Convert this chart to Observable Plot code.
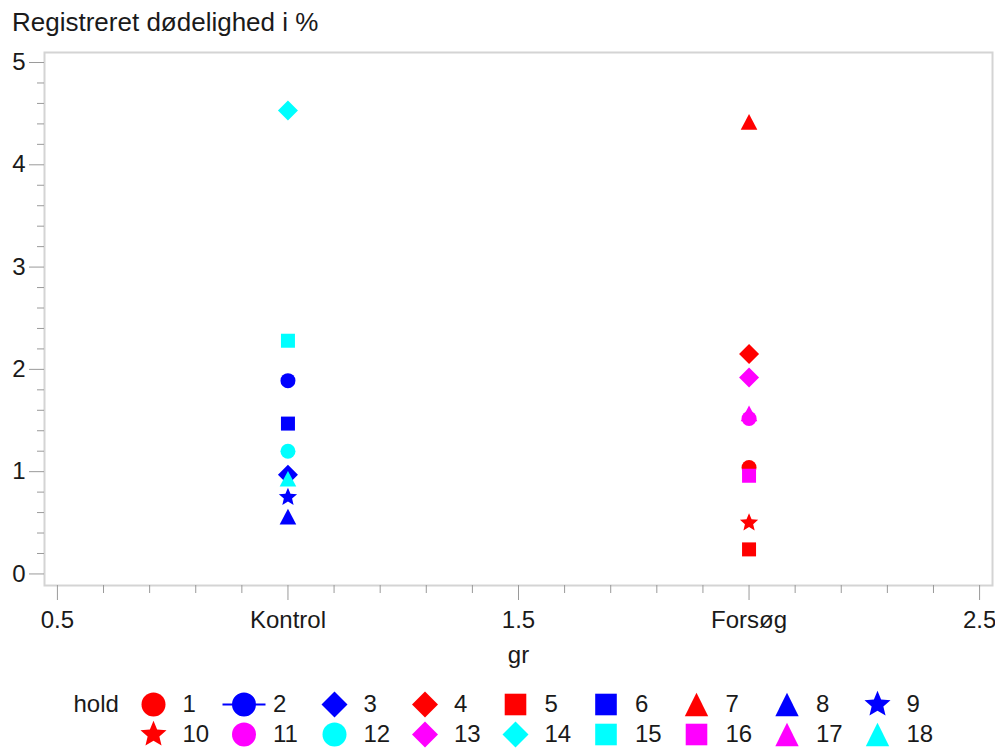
<!DOCTYPE html>
<html>
<head>
<meta charset="utf-8">
<script src="https://cdn.jsdelivr.net/npm/d3@7"></script>
<script src="https://cdn.jsdelivr.net/npm/@observablehq/plot@0.6"></script>
<style>
  body { margin: 0; background: #fff; }
  #wrap { position: relative; width: 995px; height: 749px; }
  #title { position: absolute; left: 12px; top: 7px; font: 26px "Liberation Sans", Arial, sans-serif; line-height: 30px; color: #1a1a1a; white-space: nowrap; }
  #chart { position: absolute; left: 0; top: 0; }
  #legend { position: absolute; left: 0; top: 680px; }
</style>
</head>
<body>
<div id="wrap">
  <div id="chart"></div>
  <div id="title">Registreret dødelighed i %</div>
  <div id="legend"></div>
</div>
<script>
// Mortality per hold, grouped by treatment group
const groupNames = ["Kontrol", "Forsøg"];
const holds = [1, 2, 3, 4, 5, 6, 7, 8, 9, 10, 11, 12, 13, 14, 15, 16, 17, 18];
const holdGroup = ["Forsøg", "Kontrol", "Kontrol", "Forsøg", "Forsøg", "Kontrol", "Forsøg", "Kontrol", "Kontrol",
                   "Forsøg", "Forsøg", "Kontrol", "Forsøg", "Kontrol", "Kontrol", "Forsøg", "Forsøg", "Kontrol"];
const mortality = [1.04, 1.89, 0.97, 2.15, 0.24, 1.47, 4.42, 0.56, 0.75,
                   0.50, 1.52, 1.20, 1.92, 4.53, 2.28, 0.96, 1.57, 0.93];

// Marker attributes per hold (shape and fill)
const holdShapes = ["circle", "circle", "diamond", "diamond", "square", "square", "triangle", "triangle", "star",
                    "star", "circle", "circle", "diamond", "diamond", "square", "square", "triangle", "triangle"];
const holdColors = ["#ff0000", "#0000ff", "#0000ff", "#ff0000", "#ff0000", "#0000ff", "#ff0000", "#0000ff", "#0000ff",
                    "#ff0000", "#ff00ff", "#00ffff", "#ff00ff", "#00ffff", "#00ffff", "#ff00ff", "#ff00ff", "#00ffff"];

// Axis ticks
const xTicks = [0.5, 1, 1.5, 2, 2.5];
const xTickLabels = ["0.5", "Kontrol", "1.5", "Forsøg", "2.5"];
const yTicks = [0, 1, 2, 3, 4, 5];
const xMinor = d3.range(5, 26).map(v => v / 10).filter(v => !xTicks.includes(v));
const yMinor = d3.range(0, 26).map(v => v / 5).filter(v => !yTicks.includes(v));

const rows = holds.map((h, i) => ({hold: h, group: holdGroup[i], gr: groupNames.indexOf(holdGroup[i]) + 1, value: mortality[i]}));

// Filled marker outlines drawn into a d3 path context
function drawShape(ctx, shape, d) {
  if (shape === "circle") {
    ctx.moveTo(d.circle, 0);
    ctx.arc(0, 0, d.circle, 0, 2 * Math.PI);
  } else if (shape === "square") {
    const h = d.square;
    ctx.moveTo(-h, -h); ctx.lineTo(h, -h); ctx.lineTo(h, h); ctx.lineTo(-h, h); ctx.closePath();
  } else if (shape === "diamond") {
    const h = d.diamond;
    ctx.moveTo(0, -h); ctx.lineTo(h, 0); ctx.lineTo(0, h); ctx.lineTo(-h, 0); ctx.closePath();
  } else if (shape === "triangle") {
    const [w, h] = d.triangle;
    ctx.moveTo(0, -h); ctx.lineTo(w, h); ctx.lineTo(-w, h); ctx.closePath();
  } else if (shape === "star") {
    const R = d.star, r = R * 0.45;
    for (let k = 0; k < 10; k++) {
      const a = -Math.PI / 2 + k * Math.PI / 5, rr = k % 2 ? r : R;
      const px = rr * Math.cos(a), py = rr * Math.sin(a);
      k ? ctx.lineTo(px, py) : ctx.moveTo(px, py);
    }
    ctx.closePath();
  }
}
function makeSymbol(shape, dims, withLine) {
  return {
    draw(ctx) {
      if (withLine) {
        const L = dims.line;
        ctx.moveTo(-L, -1); ctx.lineTo(L, -1); ctx.lineTo(L, 1); ctx.lineTo(-L, 1); ctx.closePath();
      }
      drawShape(ctx, shape, dims);
    }
  };
}

const chartDims = {circle: 7.5, square: 7, diamond: 10, triangle: [8.3, 7.8], star: 9.6};
const legendDims = {circle: 12, square: 10.8, diamond: 13, triangle: [11.7, 11.7], star: 13.7, line: 21.5};

const font = '"Liberation Sans", Arial, sans-serif';
const ink = "#1a1a1a";
const tickInk = "#9a9a9a";

const chart = Plot.plot({
  width: 995,
  height: 690,
  marginTop: 52,
  marginLeft: 44,
  marginRight: 3,
  marginBottom: 105,
  style: {fontFamily: font, fontSize: "24px", color: ink, background: "transparent"},
  x: {type: "linear", domain: [0.472, 2.528], label: null},
  y: {domain: [-0.113, 5.098], label: null},
  color: {type: "ordinal", domain: holds, range: holdColors},
  symbol: {domain: holds, range: holdShapes.map(s => makeSymbol(s, chartDims, false))},
  marks: [
    Plot.frame({stroke: "#d4d4d4", strokeWidth: 2}),
    Plot.axisY(yMinor, {tickSize: 7, stroke: tickInk, fill: "none", label: null}),
    Plot.axisY(yTicks, {tickSize: 15, tickPadding: 4, stroke: tickInk, fill: ink, tickFormat: d => String(d), label: null}),
    Plot.axisX(xMinor, {tickSize: 8, stroke: tickInk, fill: "none", label: null}),
    Plot.axisX(xTicks, {tickSize: 15, tickPadding: 10, stroke: tickInk, fill: ink,
      tickFormat: d => xTickLabels[xTicks.indexOf(d)], label: null}),
    Plot.text(["gr"], {frameAnchor: "bottom", dy: 70, lineAnchor: "middle", fill: ink}),
    Plot.dot(rows, {x: "gr", y: "value", fill: "hold", symbol: "hold", stroke: "none"})
  ]
});
document.getElementById("chart").append(chart);

// Legend: two rows of nine entries
const legendRows = holds.map((h, i) => ({hold: h, col: i % 9, row: Math.floor(i / 9)}));
const legend = Plot.plot({
  width: 995,
  height: 69,
  margin: 0,
  style: {fontFamily: font, fontSize: "24px", color: ink, background: "transparent"},
  x: {type: "linear", domain: [0, 8], range: [153, 877], axis: null},
  y: {type: "linear", domain: [0, 1], range: [24, 54], axis: null},
  color: {type: "ordinal", domain: holds, range: holdColors},
  symbol: {domain: holds, range: holdShapes.map((s, i) => makeSymbol(s, legendDims, holds[i] === 2))},
  marks: [
    Plot.text(["hold"], {frameAnchor: "top-left", dx: 73, dy: 24, textAnchor: "start", lineAnchor: "middle", fill: ink}),
    Plot.dot(legendRows, {x: "col", y: "row", fill: "hold", symbol: "hold", stroke: "none"}),
    Plot.text(legendRows, {x: "col", y: "row", text: d => String(d.hold), dx: 29, textAnchor: "start", lineAnchor: "middle", fill: ink})
  ]
});
document.getElementById("legend").append(legend);
</script>
</body>
</html>
